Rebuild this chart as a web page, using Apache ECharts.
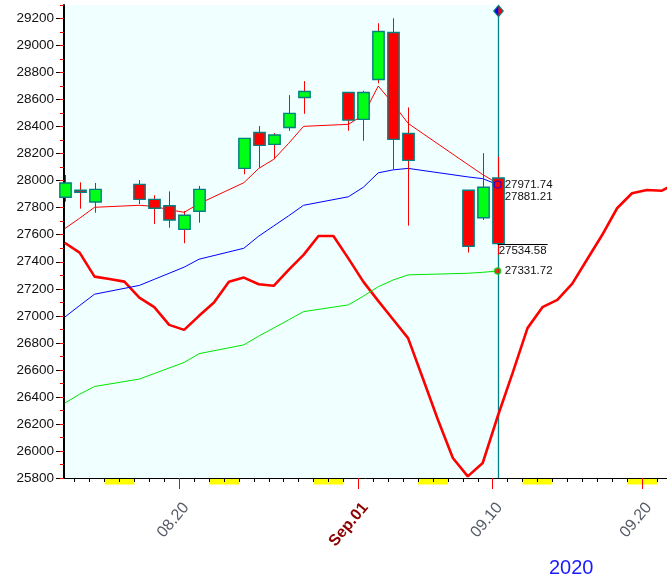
<!DOCTYPE html>
<html>
<head>
<meta charset="utf-8">
<script src="https://cdn.jsdelivr.net/npm/echarts@6/dist/echarts.min.js"></script>
<style>
html,body{margin:0;padding:0;background:#ffffff;}
#c{width:667px;height:580px;}
</style>
</head>
<body>
<div id="c"></div>
<script>
// ---------- data ----------
const tradeDates = ['2020-08-12','2020-08-13','2020-08-14','2020-08-17','2020-08-18','2020-08-19','2020-08-20','2020-08-21',
  '2020-08-24','2020-08-25','2020-08-26','2020-08-27','2020-08-28','2020-08-31','2020-09-01','2020-09-02','2020-09-03',
  '2020-09-04','2020-09-08','2020-09-09','2020-09-10'];
const opens  = [27877,27929,27842,27973,27862,27815,27640,27774,28091,28357,28269,28394,28616,28653,28454,28749,29097,28349,27929,27726,28020];
const closes = [27983,27914,27936,27862,27796,27709,27744,27936,28313,28261,28338,28498,28660,28448,28653,29104,28306,28150,27515,27951,27534.58];
const lows   = [27845,27793,27763,27827,27680,27652,27537,27689,28047,28096,28158,28369,28495,28369,28295,28720,28084,27667,27468,27709,27451];
const highs  = [28042,27988,27983,28005,27892,27921,27776,27961,28313,28404,28352,28633,28737,28653,28665,29165,29202,28542,27929,28204,28177];
const maShort = [27645,27722,27803,27818,27810,27785,27766,27830,27985,28091,28158,28276,28402,28417,28485,28700,28570,28424,28120,28045,27980];
const maMid   = [26990,27076,27160,27225,27270,27315,27360,27419,27500,27590,27665,27740,27818,27881,27951,28058,28080,28091,28028,28015,27971.74];
const maLong  = [26354,26420,26477,26532,26573,26614,26655,26720,26785,26850,26910,26970,27031,27081,27145,27215,27265,27303,27315,27322,27331.72];
const leadStart = '2020-08-12';
const leadLine = [27541,27468,27290,27272,27253,27135,27064,26933,26896,27000,27098,27253,27283,27234,27222,27340,27451,27591,27591,27425,
  27253,27111,26973,26835,26534,26231,25948,25812,25911,26255,26576,26909,27064,27118,27238,27419,27598,27796,27907,27931,27926,27985];
const weekendDates = ['2020-08-15','2020-08-16','2020-08-22','2020-08-23','2020-08-29','2020-08-30',
  '2020-09-05','2020-09-06','2020-09-12','2020-09-13','2020-09-19','2020-09-20'];
const xTickDates  = ['2020-08-20','2020-09-01','2020-09-10','2020-09-20'];
const xTickLabels = ['08.20','Sep.01','09.10','09.20'];
const yTickLabels = [25800,26000,26200,26400,26600,26800,27000,27200,27400,27600,27800,28000,28200,28400,28600,28800,29000,29200];
const endLabelValues = [27971.74, 27881.21, 27331.72];
const yearLabel = '2020';

// ---------- helpers ----------
const DAY = 86400000;
const ORIGIN = Date.UTC(2020, 7, 1);
function dayIdx(s){ const p = s.split('-').map(Number); return (Date.UTC(p[0], p[1]-1, p[2]) - ORIGIN) / DAY; }
const SHIFT = 0.33;               // candle sits a bit right of the day boundary
const X_MIN = 11.284, X_MAX = 51.674;
const FONT = "'Liberation Sans', Arial, sans-serif";

const tx = tradeDates.map(d => dayIdx(d) + SHIFT);
const last = tx.length - 1;
const lastX = tx[last];
const leadX = leadLine.map((v, i) => dayIdx(leadStart) + i + SHIFT);

const dayTicks = [];
for (let d = Math.ceil(X_MIN); d <= Math.floor(X_MAX); d++) dayTicks.push(d);
const labelTicks = xTickDates.map(dayIdx);

const chart = echarts.init(document.getElementById('c'), null, {renderer: 'canvas'});

const option = {
  animation: false,
  backgroundColor: '#ffffff',
  grid: {left: 64, right: 0, top: 5, bottom: 102, containLabel: false},
  xAxis: [
    {
      type: 'value', min: X_MIN, max: X_MAX, position: 'bottom',
      axisLine: {show: true, onZero: false, lineStyle: {color: '#000', width: 1}},
      axisTick: {show: true, customValues: dayTicks, length: 4, lineStyle: {color: '#000', width: 1}},
      axisLabel: {show: false},
      splitLine: {show: false}
    },
    {
      type: 'value', min: X_MIN, max: X_MAX, position: 'bottom',
      axisLine: {show: false, onZero: false},
      axisTick: {show: true, customValues: labelTicks, length: 11, lineStyle: {color: '#ff0000', width: 1}},
      axisLabel: {
        show: true, customValues: labelTicks, rotate: 50, margin: 21, padding: [18, 0, 0, 0],
        formatter: function (v) {
          const i = labelTicks.findIndex(t => Math.abs(t - v) < 1e-6);
          if (i < 0) return '';
          return xTickLabels[i].indexOf('Sep') === 0 ? '{s|' + xTickLabels[i] + '}' : '{n|' + xTickLabels[i] + '}';
        },
        rich: {
          n: {color: '#555b66', fontSize: 16, fontFamily: FONT},
          s: {color: '#8b0000', fontSize: 16, fontWeight: 'bold', fontFamily: FONT}
        }
      },
      splitLine: {show: false}
    }
  ],
  yAxis: [
    {
      type: 'value', min: 25800, max: 29300, position: 'left',
      axisLine: {show: true, onZero: false, lineStyle: {color: '#000', width: 2}},
      axisTick: {show: true, customValues: yTickLabels, length: 8, lineStyle: {color: '#000', width: 1}},
      axisLabel: {show: true, customValues: yTickLabels, margin: 10, color: '#111', fontSize: 13.5, fontFamily: FONT,
        formatter: function (v) { return String(Math.round(v)); }},
      splitLine: {show: false}
    },
    {
      type: 'value', min: 25800, max: 29300, interval: 100, position: 'left', offset: 0,
      axisLine: {show: false, onZero: false},
      axisTick: {show: true, length: 4, lineStyle: {color: '#ff0000', width: 1}},
      axisLabel: {show: false},
      splitLine: {show: false}
    }
  ],
  graphic: [
    {type: 'text', left: 549, top: 558, style: {text: yearLabel, fill: '#1a1aff', font: '20px ' + FONT}}
  ],
  series: [
    // plot background up to the latest candle
    {
      type: 'custom', z: -2, silent: true,
      data: [[lastX, closes[last]]],
      encode: {x: 0, y: 1},
      renderItem: function (params, api) {
        const cs = params.coordSys;
        const px = api.coord([api.value(0), api.value(1)])[0];
        return {type: 'rect', shape: {x: cs.x, y: cs.y, width: px - cs.x, height: cs.height}, style: {fill: '#f0ffff'}};
      }
    },
    // weekend blocks under the axis
    {
      type: 'custom', z: -1, silent: true, clip: false,
      data: weekendDates.map(d => [dayIdx(d), 25800]),
      encode: {x: 0, y: 1},
      renderItem: function (params, api) {
        const cs = params.coordSys;
        const x0 = api.coord([api.value(0), api.value(1)])[0];
        const x1 = api.coord([api.value(0) + 1, api.value(1)])[0];
        return {type: 'rect', shape: {x: x0, y: cs.y + cs.height + 0.5, width: x1 - x0, height: 6}, style: {fill: '#ffff00'}};
      }
    },
    // current-day vertical line with marker
    {
      type: 'custom', z: 1, silent: true, clip: false,
      data: [[lastX, closes[last]]],
      encode: {x: 0, y: 1},
      renderItem: function (params, api) {
        const cs = params.coordSys;
        const x = Math.round(api.coord([api.value(0), api.value(1)])[0]) + 0.5;
        const top = cs.y + 6;
        return {type: 'group', children: [
          {type: 'line', shape: {x1: x, y1: top, x2: x, y2: cs.y + cs.height}, style: {stroke: '#008080', lineWidth: 1.3}},
          {type: 'polygon', shape: {points: [[x, top - 6.5], [x - 5.5, top], [x, top + 6.5], [x + 5.5, top]]}, style: {fill: '#008080'}},
          {type: 'polygon', shape: {points: [[x, top - 4.8], [x - 4, top], [x, top + 4.8]]}, style: {fill: '#0000ff'}},
          {type: 'polygon', shape: {points: [[x, top - 4.8], [x + 4, top], [x, top + 4.8]]}, style: {fill: '#ff0000'}}
        ]};
      }
    },
    // long leading line
    {
      type: 'line', z: 2, symbol: 'none', silent: true,
      data: leadLine.map((v, i) => [leadX[i], v]),
      lineStyle: {color: '#ff0000', width: 2.6}
    },
    {
      type: 'line', z: 2, symbol: 'none', silent: true,
      data: maLong.map((v, i) => [tx[i], v]),
      lineStyle: {color: '#00e600', width: 1}
    },
    {
      type: 'line', z: 2, symbol: 'none', silent: true,
      data: maMid.map((v, i) => [tx[i], v]),
      lineStyle: {color: '#0000ff', width: 1}
    },
    {
      type: 'line', z: 2, symbol: 'none', silent: true,
      data: maShort.map((v, i) => [tx[i], v]),
      lineStyle: {color: '#ff0000', width: 1}
    },
    // candles
    {
      type: 'custom', z: 3, silent: true, clip: false,
      data: tx.map((x, i) => [x, opens[i], closes[i], lows[i], highs[i]]),
      encode: {x: 0, y: [1, 2, 3, 4]},
      renderItem: function (params, api) {
        const x = api.value(0), o = api.value(1), c = api.value(2), l = api.value(3), h = api.value(4);
        const pO = api.coord([x, o]), pC = api.coord([x, c]), pL = api.coord([x, l]), pH = api.coord([x, h]);
        const w = api.size([1, 0])[0] * 0.76;
        const cx = Math.round(pO[0]) + 0.5;
        const top = Math.min(pO[1], pC[1]), bot = Math.max(pO[1], pC[1]);
        return {type: 'group', children: [
          {type: 'line', shape: {x1: cx, y1: pH[1], x2: cx, y2: pL[1]}, style: {stroke: '#ff0000', lineWidth: 1}},
          {type: 'rect', shape: {x: cx - w / 2, y: top, width: w, height: Math.max(bot - top, 2)},
           style: {fill: c >= o ? '#00ff14' : '#ff0000', stroke: '#008080', lineWidth: 1.4}}
        ]};
      }
    },
    // end markers
    {
      type: 'scatter', z: 4, silent: true,
      data: [[lastX, maMid[last]]],
      symbol: 'circle', symbolSize: 7,
      itemStyle: {color: 'rgba(0,0,0,0)', borderColor: '#0000ff', borderWidth: 1.2}
    },
    {
      type: 'scatter', z: 4, silent: true,
      data: [[lastX, maLong[last]]],
      symbol: 'circle', symbolSize: 6,
      itemStyle: {color: '#ff0000', borderColor: '#00cc00', borderWidth: 1.5}
    },
    // value labels at the end
    {
      type: 'custom', z: 5, silent: true, clip: false,
      data: endLabelValues.map(v => [lastX, v]),
      encode: {x: 0, y: 1},
      renderItem: function (params, api) {
        const p = api.coord([api.value(0), api.value(1)]);
        return {type: 'text', x: p[0] + 7, y: p[1],
          style: {text: api.value(1).toFixed(2), fill: '#111', font: '11.5px ' + FONT, align: 'left', verticalAlign: 'middle'}};
      }
    },
    // latest close indicator
    {
      type: 'custom', z: 5, silent: true, clip: false,
      data: [[lastX, closes[last]]],
      encode: {x: 0, y: 1},
      renderItem: function (params, api) {
        const p = api.coord([api.value(0), api.value(1)]);
        const y = Math.round(p[1]) + 0.5;
        return {type: 'group', children: [
          {type: 'line', shape: {x1: p[0], y1: y, x2: p[0] + 50, y2: y}, style: {stroke: '#000', lineWidth: 1}},
          {type: 'text', x: p[0] + 1, y: y + 0.5,
           style: {text: api.value(1).toFixed(2), fill: '#111', font: '11.5px ' + FONT, align: 'left', verticalAlign: 'top'}}
        ]};
      }
    }
  ]
};
chart.setOption(option);
</script>
</body>
</html>
